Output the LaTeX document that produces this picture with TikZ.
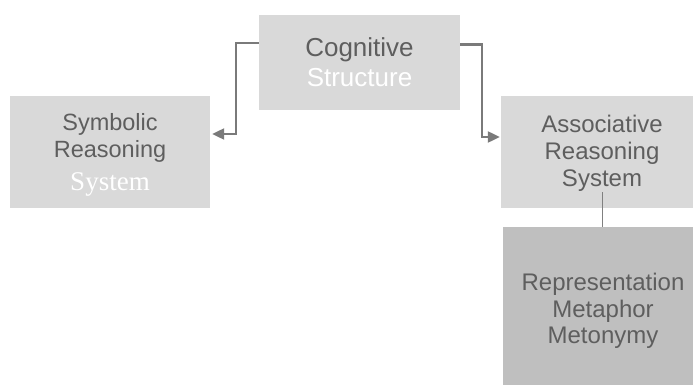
\documentclass[tikz,border=0pt]{standalone}
\usepackage{fontspec}
\setmainfont{Liberation Sans}
\newfontfamily\serifface{Liberation Serif}
\usetikzlibrary{arrows.meta}
\definecolor{boxgray}{HTML}{D9D9D9}
\definecolor{darkbox}{HTML}{BFBFBF}
\definecolor{txtgray}{HTML}{5E5E5E}
\definecolor{arrgray}{HTML}{7A7A7A}
\definecolor{lingray}{HTML}{808080}
\newcommand\mytopstrut[1]{\rule{0pt}{#1}}
\newcommand\mybotstrut[1]{\rule[-#1]{0pt}{#1}}
\tikzset{
  box/.style={fill=boxgray, draw=none, inner sep=0pt, align=center, text=txtgray},
  darkboxstyle/.style={fill=darkbox, draw=none, inner sep=0pt, align=center, text=txtgray},
  arr/.style={draw=arrgray, line width=2.2pt, -{Triangle[length=12pt,width=11pt]}},
  thinline/.style={draw=lingray, line width=1pt}
}
\begin{document}
\begin{tikzpicture}[x=1pt,y=-1pt]
\useasboundingbox (0,0) rectangle (693,385);
\node[box, minimum width=201pt, minimum height=95pt, font=\fontsize{26}{30}\selectfont] (cog) at (359.5,62.5)
  {\mytopstrut{22.4pt}Cognitive\\{\color{white}Structure}\mybotstrut{4pt}};
\node[box, minimum width=200pt, minimum height=112pt, font=\fontsize{23.5}{26.6}\selectfont] (sym) at (110,152)
  {\mytopstrut{23.4pt}Symbolic\\Reasoning\\[6.8pt]{\color{white}\serifface\fontsize{27}{26.6}\selectfont System}\mybotstrut{6pt}};
\node[box, minimum width=202pt, minimum height=112pt, font=\fontsize{24}{27}\selectfont] (asso) at (602,152)
  {\mytopstrut{21.4pt}Associative\\Reasoning\\System\mybotstrut{6pt}};
\node[darkboxstyle, minimum width=200pt, minimum height=158pt, font=\fontsize{24}{26.3}\selectfont] (rep) at (603,306)
  {\mytopstrut{28pt}Representation\\Metaphor\\Metonymy\mybotstrut{6pt}};
\coordinate (c1) at (602,192);
\draw[thinline] (c1) -- (c1 |- rep.north);
\draw[arr] ([yshift=19.5pt]cog.west) -- ++(-23,0) |- ([xshift=2pt,yshift=18pt]sym.east);
\draw[arr] ([yshift=18pt]cog.east) -- ++(22,0) |- ([xshift=-1pt,yshift=15pt]asso.west);
\end{tikzpicture}
\end{document}
